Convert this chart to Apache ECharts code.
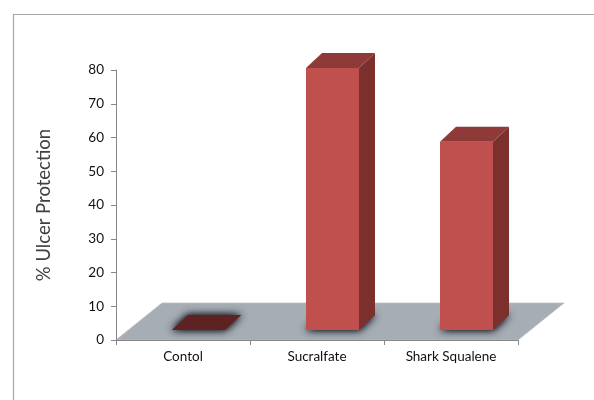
<!DOCTYPE html>
<html>
<head>
<meta charset="utf-8">
<script src="https://cdn.jsdelivr.net/npm/echarts@6/dist/echarts.min.js"></script>
<style>
  html, body { margin: 0; padding: 0; background: #ffffff; }
  #chart { width: 594px; height: 400px; }
</style>
</head>
<body>
<div id="chart"></div>
<script>
// Ulcer protection by treatment group
const categories = ['Contol', 'Sucralfate', 'Shark Squalene'];
const protection = [0, 77.6, 55.8];
const yTicks = [0, 10, 20, 30, 40, 50, 60, 70, 80];

const FONT = 'Lato, "Open Sans", sans-serif';

// pseudo-3D geometry (pixels)
const FLOOR_DX = 46, FLOOR_DY = -37;   // depth of the floor plate
const BAR_W = 53;                      // front face width
const BAR_DX = 16, BAR_DY = -15;       // depth of each column
const BAR_SHIFT_X = 15.5, BAR_SHIFT_Y = -10; // columns sit mid-depth on the floor

const chart = echarts.init(document.getElementById('chart'), null, { renderer: 'canvas' });

function floorItem(params, api) {
  const cs = params.coordSys;
  const y0 = api.coord([0, 0])[1];
  const x0 = cs.x, x1 = cs.x + cs.width;
  return {
    type: 'group',
    children: [{
      type: 'polygon',
      shape: { points: [[x0, y0], [x1, y0], [x1 + FLOOR_DX, y0 + FLOOR_DY], [x0 + FLOOR_DX, y0 + FLOOR_DY]] },
      style: { fill: '#A6ADB4', stroke: '#B9BEC3', lineWidth: 0.8 }
    }]
  };
}

function barItem(params, api) {
  const idx = api.value(0);
  const val = api.value(1);
  const top = api.coord([idx, val]);
  const base = api.coord([idx, 0]);
  const xl = top[0] - BAR_W / 2 + BAR_SHIFT_X;
  const xr = xl + BAR_W;
  const yt = top[1] + BAR_SHIFT_Y;
  const yb = base[1] + BAR_SHIFT_Y;
  const foot = [[xl, yb], [xr, yb], [xr + BAR_DX, yb + BAR_DY], [xl + BAR_DX, yb + BAR_DY]];
  const children = [];
  // soft shadow on the floor around the footprint
  children.push({
    type: 'polygon',
    shape: { points: foot },
    style: { fill: '#55595E', shadowBlur: 10, shadowColor: 'rgba(30,30,40,1)' }
  });
  children.push({
    type: 'polygon',
    shape: { points: foot },
    style: { fill: '#55595E', shadowBlur: 6, shadowColor: 'rgba(30,30,40,0.9)' }
  });
  if (val > 0.5) {
    children.push({
      type: 'rect',
      shape: { x: xl, y: yt, width: BAR_W, height: yb - yt },
      style: { fill: '#C0504D' }
    });
    children.push({
      type: 'polygon',
      shape: { points: [[xr, yt], [xr + BAR_DX, yt + BAR_DY], [xr + BAR_DX, yb + BAR_DY], [xr, yb]] },
      style: { fill: '#7B302E' }
    });
    children.push({
      type: 'polygon',
      shape: { points: [[xl, yt], [xr, yt], [xr + BAR_DX, yt + BAR_DY], [xl + BAR_DX, yt + BAR_DY]] },
      style: { fill: '#8E3A38' }
    });
  } else {
    children.push({
      type: 'polygon',
      shape: { points: foot },
      style: { fill: '#5D2221' }
    });
  }
  return { type: 'group', children };
}

const option = {
  backgroundColor: '#ffffff',
  animation: false,
  graphic: [{
    type: 'rect',
    left: 11, top: 12,
    shape: { width: 620, height: 420 },
    style: { fill: 'none', stroke: '#A6A6A6', lineWidth: 1.2 },
    z: -10
  }],
  grid: { left: 116, right: 76, top: 70, bottom: 60 },
  xAxis: {
    type: 'category',
    data: categories,
    boundaryGap: true,
    axisLine: { lineStyle: { color: '#868686', width: 1 } },
    axisTick: { show: true, length: 5, interval: 0, lineStyle: { color: '#868686' } },
    axisLabel: { color: '#111111', fontFamily: FONT, fontSize: 13.5, margin: 10 },
    z: 10
  },
  yAxis: {
    type: 'value',
    min: yTicks[0],
    max: yTicks[yTicks.length - 1],
    interval: yTicks[1] - yTicks[0],
    name: '% Ulcer Protection',
    nameLocation: 'middle',
    nameGap: 62,
    nameTextStyle: { color: '#404040', fontFamily: FONT, fontSize: 18.5 },
    axisLine: { show: true, lineStyle: { color: '#868686', width: 1 } },
    axisTick: { show: true, length: 5, lineStyle: { color: '#868686' } },
    axisLabel: { color: '#111111', fontFamily: FONT, fontSize: 13.5, margin: 12 },
    splitLine: { show: false },
    z: 10
  },
  series: [
    {
      type: 'custom',
      name: 'floor',
      data: [[0, 0]],
      renderItem: floorItem,
      silent: true,
      z: 1
    },
    {
      type: 'custom',
      name: '% Ulcer Protection',
      data: protection.map((v, i) => [i, v]),
      encode: { x: 0, y: 1 },
      renderItem: barItem,
      z: 2
    }
  ]
};

chart.setOption(option);
</script>
</body>
</html>
